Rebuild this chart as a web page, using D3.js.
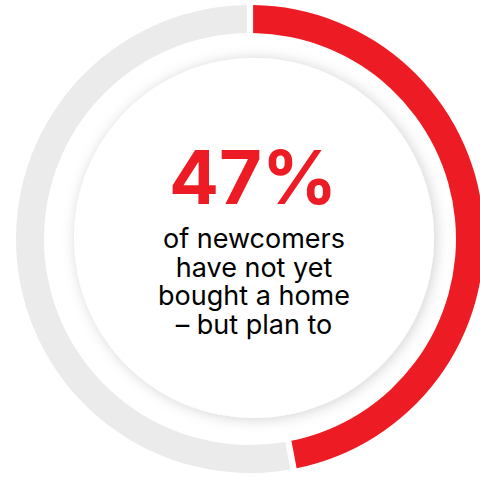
<!DOCTYPE html>
<html>
<head>
<meta charset="utf-8">
<script src="https://cdn.jsdelivr.net/npm/d3@7"></script>
<style>
  html, body { margin: 0; padding: 0; background: #fff; }
  svg { display: block; }
</style>
</head>
<body>
<svg id="chart" width="480" height="477"></svg>
<script>
// Share of newcomers by home-buying status
const categories = ["Not yet bought – plan to", "Other"];
const values = [47, 53];
const colors = ["#ED1C24", "#EBEBEB"];
const headline = "47%";
const captionLines = ["of newcomers", "have not yet", "bought a home", "– but plan to"];

const svg = d3.select("#chart");
const cx = 250, cy = 239;
const outerR = 234, innerR = 206;

// soft shadow under the centre disc
const defs = svg.append("defs");
const f = defs.append("filter").attr("id", "discShadow")
  .attr("x", "-20%").attr("y", "-20%").attr("width", "140%").attr("height", "140%");
f.append("feDropShadow")
  .attr("dx", 2).attr("dy", 1)
  .attr("stdDeviation", 7)
  .attr("flood-color", "#000")
  .attr("flood-opacity", 0.18);

const g = svg.append("g").attr("transform", `translate(${cx},${cy})`);

const pie = d3.pie().sort(null).value(d => d).padAngle(0.02);
const arc = d3.arc().innerRadius(innerR).outerRadius(outerR);

g.selectAll("path.slice")
  .data(pie(values))
  .join("path")
  .attr("class", "slice")
  .attr("d", arc)
  .attr("fill", (d, i) => colors[i]);

// centre disc
g.append("circle")
  .attr("cx", 4).attr("cy", -1)
  .attr("r", 180)
  .attr("fill", "#fff")
  .attr("filter", "url(#discShadow)");

// headline value
g.append("text")
  .attr("x", 3).attr("y", 204 - cy)
  .attr("text-anchor", "middle")
  .attr("font-family", "Inter, 'Open Sans', sans-serif")
  .attr("font-weight", 700)
  .attr("font-size", 74)
  .attr("fill", colors[0])
  .text(headline);

// caption: one text block, one tspan per line
const caption = g.append("text")
  .attr("class", "caption")
  .attr("text-anchor", "middle")
  .attr("font-family", "Inter, 'Open Sans', sans-serif")
  .attr("font-size", 27)
  .attr("fill", "#000");

caption.selectAll("tspan")
  .data(captionLines)
  .join("tspan")
  .attr("x", 4)
  .attr("y", (d, i) => 248 - cy + i * 28.5)
  .text(d => d);
</script>
</body>
</html>
